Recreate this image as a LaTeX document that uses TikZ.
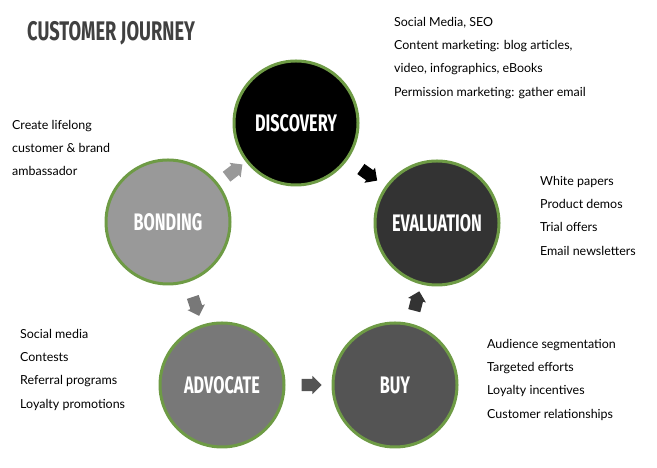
\documentclass[tikz,border=0pt]{standalone}
\usepackage{fontspec}
\setmainfont{Lato}
\newfontfamily\condfont[FakeStretch=0.68]{Fira Sans}
\usetikzlibrary{shapes.arrows,positioning}
\definecolor{ringgreen}{HTML}{6E9B45}
\begin{document}
\begin{tikzpicture}[x=1bp, y=1bp,
    stage/.style={circle, draw=ringgreen, line width=3bp, minimum size=124bp, inner sep=0pt,
        text=white, font=\condfont\bfseries\fontsize{24}{24}\selectfont},
    note/.style={anchor=north west, align=left, inner sep=0pt, font=\fontsize{12.5}{23.3}\selectfont},
    turn/.style={single arrow, draw=none, sloped, minimum height=20bp, inner sep=6bp,
        single arrow head extend=3bp, single arrow head indent=0bp}
]
    \useasboundingbox (0,0) rectangle (657,468);
    % Title
    \node[anchor=west, inner sep=0pt, text=black!75, font=\condfont\bfseries\fontsize{27}{27}\selectfont] (title) at (27,435) {CUSTOMER JOURNEY};

    % Stages
    \node[stage, fill=black] (disc) at (296,345) {DISCOVERY};
    \node[stage, fill=black!80] (eval) at (437,245) {EVALUATION};
    \node[stage, fill=black!67] (buy) at (395,83) {BUY};
    \node[stage, fill=black!53] (adv) at (222,83) {ADVOCATE};
    \node[stage, fill=black!40] (bond) at (168,246) {BONDING};

    % Arrows
    \path (disc) -- node[turn, fill=black] {} (eval);
    \path (eval) -- node[turn, fill=black!80] {} (buy);
    \path (buy) -- node[turn, fill=black!67] {} (adv);
    \path (adv) -- node[turn, fill=black!53] {} (bond);
    \path (bond) -- node[turn, fill=black!40] {} (disc);

    % Notes
    \node[note] (ndisc) at (394,451) {Social Media, SEO\\Content marketing: blog articles,\\video, infographics, eBooks\\Permission marketing: gather email};
    \node[note] (neval) at (540,292) {White papers\\Product demos\\Trial offers\\Email newsletters};
    \node[note] (nbuy) at (487,129) {Audience segmentation\\Targeted efforts\\Loyalty incentives\\Customer relationships};
    \node[note] (nadv) at (20,139) {Social media\\Contests\\Referral programs\\Loyalty promotions};
    \node[note] (nbond) at (12,348) {Create lifelong\\customer \& brand\\ambassador};
\end{tikzpicture}
\end{document}
